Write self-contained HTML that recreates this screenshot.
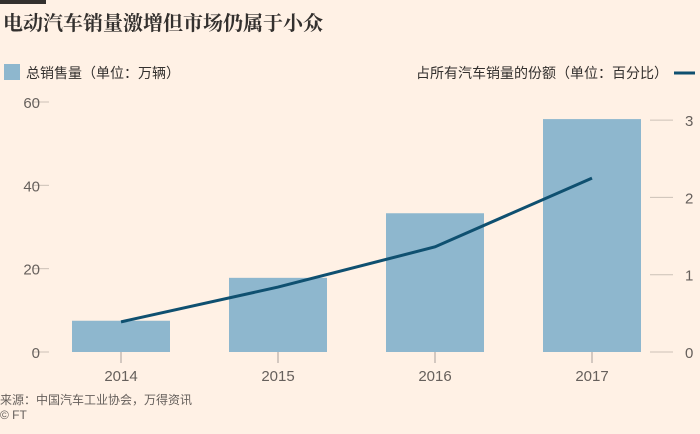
<!DOCTYPE html>
<html><head><meta charset="utf-8"><style>
body{margin:0;background:#fff1e5;width:700px;height:429px;overflow:hidden;font-family:"Liberation Sans","Noto Sans CJK SC",sans-serif}
</style></head><body>
<svg width="700" height="429" xmlns="http://www.w3.org/2000/svg">
<rect x="0" y="0" width="46" height="4" fill="#33302e"/>
<text x="3" y="30" font-size="20" font-weight="bold" fill="#33302e" font-family="Noto Serif CJK SC, Noto Sans CJK SC, serif">电动汽车销量激增但市场仍属于小众</text>
<rect x="4" y="64" width="16" height="16" fill="#8eb7ce"/>
<text x="26" y="78" font-size="14" fill="#33302e">总销售量（单位：万辆）</text>
<text x="668" y="78" font-size="14" fill="#33302e" text-anchor="end">占所有汽车销量的份额（单位：百分比）</text>
<line x1="674" y1="73" x2="695" y2="73" stroke="#0f5070" stroke-width="3"/>
<g id="g"></g>
<text x="0" y="404" font-size="12" fill="#66605c">来源：中国汽车工业协会，万得资讯</text>
<text x="0" y="419" font-size="12" fill="#66605c">© FT</text>
</svg>
<script>
const years=["2014","2015","2016","2017"];
const sales=[7.5,17.8,33.3,55.9];
const share=[0.39,0.84,1.36,2.25];
const leftTicks=[0,20,40,60];
const rightTicks=[0,1,2,3];
const NS="http://www.w3.org/2000/svg";
const g=document.getElementById('g');
const yL=v=>352-v*(250/60);
const yR=v=>352-v*77.3;
const xC=i=>121+i*157;
function mk(t,a){const e=document.createElementNS(NS,t);for(const k in a)e.setAttribute(k,a[k]);g.appendChild(e);return e;}
leftTicks.forEach(v=>{
 let l=mk('line',{x1:33,x2:49,y1:yL(v),y2:yL(v),stroke:'#ccc1b7'});
 
 
 let t=mk('text',{x:40,y:yL(v)+6,'font-size':15,fill:'#66605c','text-anchor':'end'});t.textContent=v;
 
 
});
rightTicks.forEach(v=>{
 let l=mk('line',{x1:650,x2:673,y1:yR(v),y2:yR(v),stroke:'#ccc1b7'});
 
 
 let t=mk('text',{x:685,y:yR(v)+6,'font-size':15,fill:'#66605c'});t.textContent=v;
 
 
});
years.forEach((y,i)=>{
 let b=mk('rect',{x:xC(i)-49,y:yL(sales[i]),width:98,height:352-yL(sales[i]),fill:'#8eb7ce'});
 
 
 let l=mk('line',{x1:xC(i),x2:xC(i),y1:352,y2:363,stroke:'#a7a09a'});
 
 
 let t=mk('text',{x:xC(i),y:381,'font-size':15,fill:'#66605c','text-anchor':'middle'});t.textContent=y;
 
 
});
let p=mk('polyline',{points:share.map((v,i)=>xC(i)+','+yR(v)).join(' '),fill:'none',stroke:'#0f5070','stroke-width':3});


</script>
</body></html>
